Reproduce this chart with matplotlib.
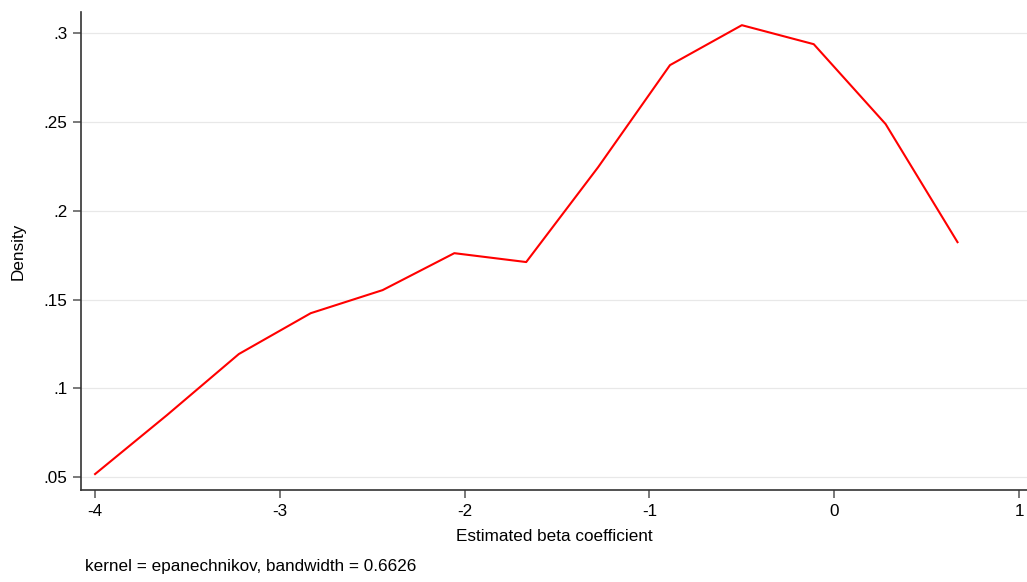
import matplotlib
matplotlib.use("Agg")
import matplotlib.pyplot as plt

# kernel density estimate evaluated at 13 points
beta = [-4.0, -3.611, -3.222, -2.833, -2.444, -2.056, -1.667,
        -1.278, -0.889, -0.5, -0.111, 0.278, 0.667]
density = [0.0517, 0.0849, 0.1193, 0.1423, 0.1553, 0.1761, 0.1711,
           0.2245, 0.2820, 0.3045, 0.2938, 0.2488, 0.1823]

xticks = [-4, -3, -2, -1, 0, 1]
yticks = [0.05, 0.1, 0.15, 0.2, 0.25, 0.3]
ylabels = [".05", ".1", ".15", ".2", ".25", ".3"]

plt.rcParams['font.family'] = ['Liberation Sans', 'DejaVu Sans']
fs = 12.3

fig = plt.figure(figsize=(10.27, 5.82), dpi=100)
ax = fig.add_axes([0.0789, 0.158, 0.9211, 0.821])

ax.plot(beta, density, color='#ff0000', lw=1.5)

ax.set_xlim(-4.076, 1.043)
ax.set_ylim(0.0427, 0.3118)
ax.set_xticks(xticks)
ax.set_xticklabels([str(t) for t in xticks])
ax.set_yticks(yticks)
ax.set_yticklabels(ylabels)
ax.grid(axis='y', color='#e8e8e8', lw=0.9)
ax.set_axisbelow(True)

for s in ['top', 'right']:
    ax.spines[s].set_visible(False)
for s in ['left', 'bottom']:
    ax.spines[s].set_color('#333333')
    ax.spines[s].set_linewidth(1.2)
ax.tick_params(axis='both', labelsize=fs, length=6, width=1.1,
               color='#555555', pad=4)

ax.set_xlabel("Estimated beta coefficient", fontsize=fs, labelpad=7)
ax.set_ylabel("Density", fontsize=fs, labelpad=13)
fig.text(0.0828, 1 - 567 / 582, "kernel = epanechnikov, bandwidth = 0.6626",
         fontsize=fs, ha='left', va='center')

fig.savefig("out.png", dpi=100)
